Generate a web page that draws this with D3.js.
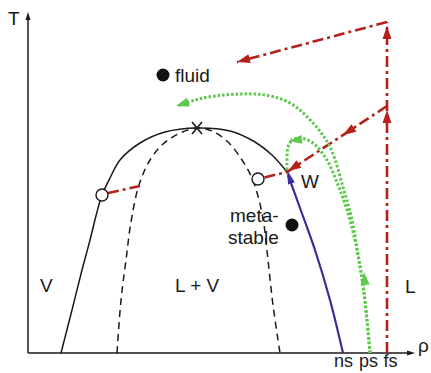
<!DOCTYPE html>
<html><head><meta charset="utf-8">
<script src="https://cdn.jsdelivr.net/npm/d3@7"></script>
<style>
html,body{margin:0;padding:0;background:#fff;}
svg{display:block;font-family:"Liberation Sans",Arial,sans-serif;}
</style></head>
<body>
<script>
// ---- data (density rho, temperature T; arbitrary units) ----
const binodal = [[33,0],[44,43],[54,83],[62,113],[69,141],[74,158],[82,175],[92,193],[112,210],[137,221],[169,225],[202,222],[227,211],[244,198],[259,181]];
const spinodal = [[89,0],[93,53],[98,93],[103,131],[111,168],[122,193],[135,209],[150,219],[169,225],[184,222],[200,211],[214,193],[224,175],[231,153],[236,128],[240,93],[245,48],[252,0]];
const critical = [169,225];
const nsPath = [[315,0],[302,53],[287,103],[272,145],[260,178]];
const fsPathUp = [[359,0],[359,331]];
const fsPathBack = [[359,331],[209,291]];
const quenchPath = [[359,247],[259,181],[234,175]];
const leftTie = [[80,160],[112,167]];
const psOuter = [[342,0],[339,33],[335,68],[330,98],[324,133],[315,166],[302,206],[285,230],[262,250],[237,258],[212,259],[187,257],[167,253],[150,247]];
const psInner = [[342,0],[339,33],[335,68],[330,98],[327,113],[319,143],[310,168],[299,193],[285,210],[272,215],[263,213]];
const psTail = [[263,212],[260,206],[259,195],[259,183]];
const openPoints = [[74,158],[230,174]];
const filledPoints = [[135,278],[264,128]];
const tickValues = [315,340,362];
const tickLabels = ["ns","ps","fs"];
const regionLabels = [
  {t:"V", p:[12,61]}, {t:"L + V", p:[147,61]}, {t:"L", p:[377,60]},
  {t:"W", p:[273,165]}, {t:"fluid", p:[147,271]},
  {t:"meta-", p:[202,131]}, {t:"stable", p:[200,109]}
];
const arrowsRed = [
  {tip:[359,327], from:[359,303]},
  {tip:[359,243], from:[359,223]},
  {tip:[209,291], from:[232,297]},
  {tip:[315,218], from:[332,229]},
  {tip:[260,182], from:[277,193]}
];
const arrowsGreen = [
  {tip:[336,81], from:[338,58]},
  {tip:[148,247], from:[167,253]},
  {tip:[261,212], from:[277,214]}
];
const arrowsBlue = [{tip:[259,183], from:[265,165]}];

const RED="#b52019", GREEN="#5cc94a", BLUE="#3a2d96", INK="#1a1a1a";

const W=431,H=373;
const svg=d3.select("body").append("svg").attr("width",W).attr("height",H);
const x=d3.scaleLinear().domain([0,387]).range([28,415]);
const y=d3.scaleLinear().domain([0,341]).range([353,12]);
const line=d3.line().x(d=>x(d[0])).y(d=>y(d[1]));
const smooth=d3.line().x(d=>x(d[0])).y(d=>y(d[1])).curve(d3.curveCatmullRom.alpha(0.5));

// axes
svg.append("line").attr("x1",x(0)).attr("y1",y(0)).attr("x2",x(381)).attr("y2",y(0)).attr("stroke",INK).attr("stroke-width",1.5);
svg.append("line").attr("x1",x(0)).attr("y1",y(0)).attr("x2",x(0)).attr("y2",y(335)).attr("stroke",INK).attr("stroke-width",1.5);
function tri(tip,from,len,wid,color){
  const tx=x(tip[0]),ty=y(tip[1]),fx=x(from[0]),fy=y(from[1]);
  const a=Math.atan2(ty-fy,tx-fx);
  const bx=tx-len*Math.cos(a),by=ty-len*Math.sin(a);
  const nx=-Math.sin(a)*wid/2,ny=Math.cos(a)*wid/2;
  svg.append("path").attr("d",`M${tx},${ty}L${bx+nx},${by+ny}L${bx-nx},${by-ny}Z`).attr("fill",color);
}
tri([387,0],[380,0],8,5,INK);
tri([0,341],[0,330],8,5,INK);
const xAxis=d3.axisBottom(x).tickValues(tickValues).tickSize(0).tickPadding(0).tickFormat((d,i)=>tickLabels[i]);
const ga=svg.append("g").attr("transform",`translate(0,${y(0)})`).call(xAxis);
ga.select(".domain").remove();
ga.selectAll("text").attr("font-size",18).attr("fill",INK).attr("font-family","Liberation Sans, Arial, sans-serif").attr("y",14).attr("dy",null);
svg.append("text").attr("x",8).attr("y",25).attr("font-size",19).attr("fill",INK).text("T");
svg.append("text").attr("x",418).attr("y",352).attr("font-size",19).attr("fill",INK).text("ρ");

// binodal & spinodal
svg.append("path").attr("d",smooth(binodal)).attr("fill","none").attr("stroke",INK).attr("stroke-width",1.5);
svg.append("path").attr("d",smooth(spinodal)).attr("fill","none").attr("stroke",INK).attr("stroke-width",1.5).attr("stroke-dasharray","7,5");
// critical X
const cx=x(critical[0]),cy=y(critical[1]);
svg.append("path").attr("d",`M${cx-5},${cy-6}L${cx+5},${cy+6}M${cx+5},${cy-6}L${cx-5},${cy+6}`).attr("stroke",INK).attr("stroke-width",1.6);

// red dash-dot paths
const redDash="11,4,3,4";
[fsPathUp,fsPathBack,quenchPath,leftTie].forEach(p=>{
  svg.append("path").attr("d",line(p)).attr("fill","none").attr("stroke",RED).attr("stroke-width",2.6).attr("stroke-dasharray",redDash);
});
// green dotted
[psOuter,psInner,psTail].forEach(p=>{
  svg.append("path").attr("d",smooth(p)).attr("fill","none").attr("stroke",GREEN).attr("stroke-width",3).attr("stroke-dasharray","2.5,2");
});
// blue
svg.append("path").attr("d",smooth(nsPath)).attr("fill","none").attr("stroke",BLUE).attr("stroke-width",2.2);

arrowsRed.forEach(a=>tri(a.tip,a.from,13,9,RED));
arrowsGreen.forEach(a=>tri(a.tip,a.from,13,9,GREEN));
arrowsBlue.forEach(a=>tri(a.tip,a.from,14,7,BLUE));

// points
svg.selectAll("circle.open").data(openPoints).join("circle").attr("class","open")
  .attr("cx",d=>x(d[0])).attr("cy",d=>y(d[1])).attr("r",6).attr("fill","#fff").attr("stroke",INK).attr("stroke-width",1.4);
svg.selectAll("circle.fill").data(filledPoints).join("circle").attr("class","fill")
  .attr("cx",d=>x(d[0])).attr("cy",d=>y(d[1])).attr("r",6.5).attr("fill","#111");

// labels
svg.selectAll("text.lab").data(regionLabels).join("text").attr("class","lab")
  .attr("x",d=>x(d.p[0])).attr("y",d=>y(d.p[1])).attr("font-size",19).attr("fill",INK).text(d=>d.t);
</script>
</body></html>
